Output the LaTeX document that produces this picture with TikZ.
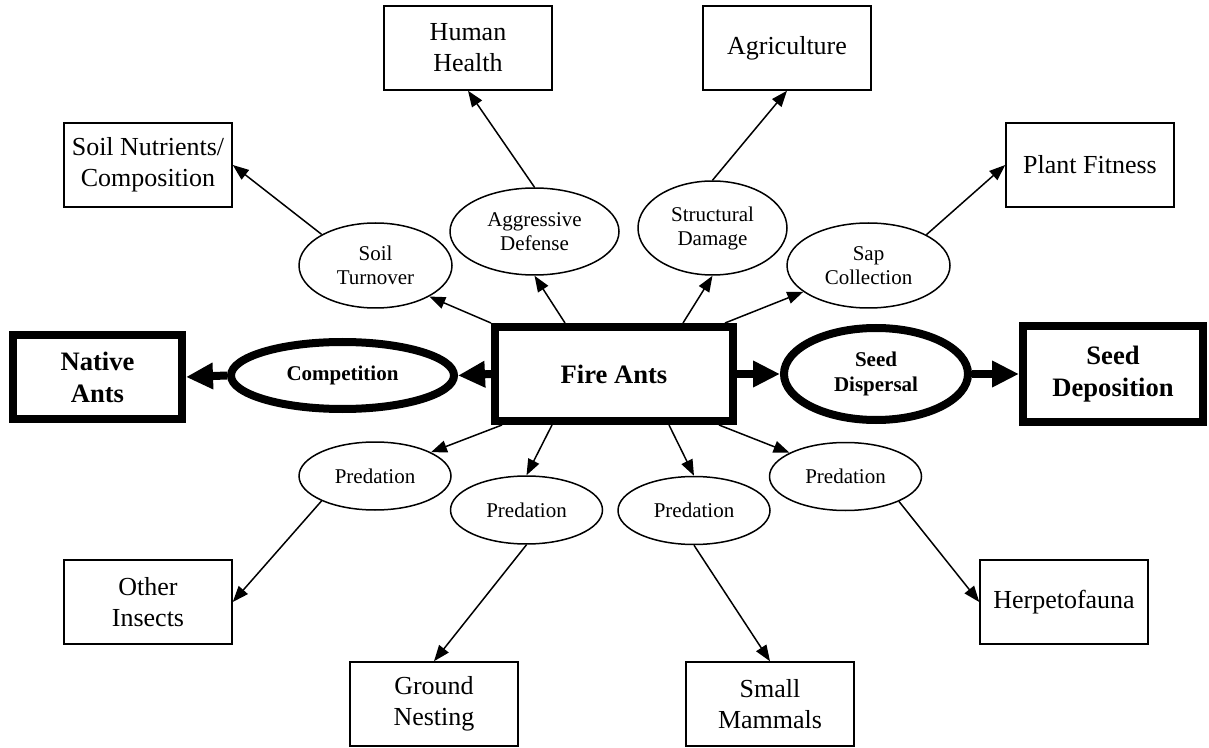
\documentclass[tikz,border=0pt]{standalone}
\usepackage{fontspec}
\setmainfont{Liberation Serif}
\usetikzlibrary{arrows.meta,calc,shapes.geometric}

\begin{document}
\begin{tikzpicture}[x=0.5pt,y=-0.5pt,
  box/.style={draw,line width=0.75pt,minimum width=84pt,minimum height=42pt,inner sep=1pt,align=center,font=\fontsize{13}{15.5}\selectfont},
  bigbox/.style={draw,line width=4pt,inner sep=1pt,align=center,font=\fontsize{13.3}{16}\selectfont\bfseries},
  oval/.style={draw,ellipse,line width=0.75pt,inner sep=1pt,align=center,font=\fontsize{10.5}{12}\selectfont},
  bigoval/.style={draw,ellipse,line width=4pt,inner sep=1pt,align=center,font=\fontsize{10.5}{12.5}\selectfont\bfseries},
  link/.style={line width=0.75pt,-{Triangle[length=8pt,width=6pt]}},
  biglink/.style={line width=4pt,-{Triangle[length=13.5pt,width=12.5pt]}}]
\useasboundingbox (0,0) rectangle (1209,748);
\node[bigbox,minimum width=119pt,minimum height=47pt] (fire) at (614,374) {Fire Ants};
\node[bigbox,minimum width=84.5pt,minimum height=42pt] (native) at (97.5,377) {Native\\Ants};
\node[bigbox,minimum width=90pt,minimum height=47.5pt] (dep) at (1113,374) {Seed\\Deposition};
\node[bigoval,minimum width=111.5pt,minimum height=33.5pt] (comp) at (342.5,375.5) {Competition};
\node[bigoval,minimum width=92pt,minimum height=46pt] (disp) at (876,374) {Seed\\Dispersal};
\node[oval,minimum width=76.5pt,minimum height=42.5pt] (turn) at (375.5,265.5) {Soil\\Turnover};
\node[oval,minimum width=84.5pt,minimum height=43.5pt] (aggr) at (534.5,231.5) {Aggressive\\Defense};
\node[oval,minimum width=74.5pt,minimum height=47pt] (struct) at (712.5,228) {Structural\\Damage};
\node[oval,minimum width=81.5pt,minimum height=42.5pt] (sap) at (868.5,265.5) {Sap\\Collection};
\foreach \n/\x/\y in {1/375/476,2/526.5/510,3/694/510.5,4/845.5/476.5}
  \node[oval,minimum width=76pt,minimum height=34pt] (pred\n) at (\x,\y) {Predation};
\node[box] (health) at (468,48) {Human\\Health};
\node[box] (agri) at (787,48) {Agriculture};
\node[box] (soil) at (148,165) {Soil Nutrients/\\Composition};
\node[box] (plant) at (1090,165) {Plant Fitness};
\node[box] (other) at (148,602) {Other\\Insects};
\node[box] (herp) at (1064,602) {Herpetofauna};
\node[box] (ground) at (434,704) {Ground\\Nesting};
\node[box] (small) at (770,704) {Small\\Mammals};
% from the colony
\draw[link] (fire.north west) -- (turn.-30);
\draw[link] ($(fire.north)+(-49,0)$) -- (aggr.south);
\draw[link] ($(fire.north)+(69,0)$) -- (struct.south);
\draw[link] ($(fire.north)+(111,0)$) -- (sap.202);
\draw[link] ($(fire.south)+(-112,0)$) -- (pred1.23);
\draw[link] ($(fire.south)+(-62,0)$) -- (pred2.north);
\draw[link] ($(fire.south)+(55,0)$) -- (pred3.north);
\draw[link] ($(fire.south)+(105,0)$) -- (pred4.157);
% outer effects
\draw[link] (turn.150) -- (soil.east);
\draw[link] (aggr.north) -- (health.south);
\draw[link] (struct.north) -- (agri.south);
\draw[link] (sap.28) -- (plant.west);
\draw[link] (pred1.205) -- (other.east);
\draw[link] (pred2.south) -- (ground.north);
\draw[link] (pred3.south) -- (small.north);
\draw[link] (pred4.335) -- (herp.west);
\draw[biglink] (fire.west) -- (comp.east);
\draw[biglink] (comp.west) -- (native.east);
\draw[biglink] (fire.east) -- (disp.west);
\draw[biglink] (disp.east) -- (dep.west);
\end{tikzpicture}
\end{document}
